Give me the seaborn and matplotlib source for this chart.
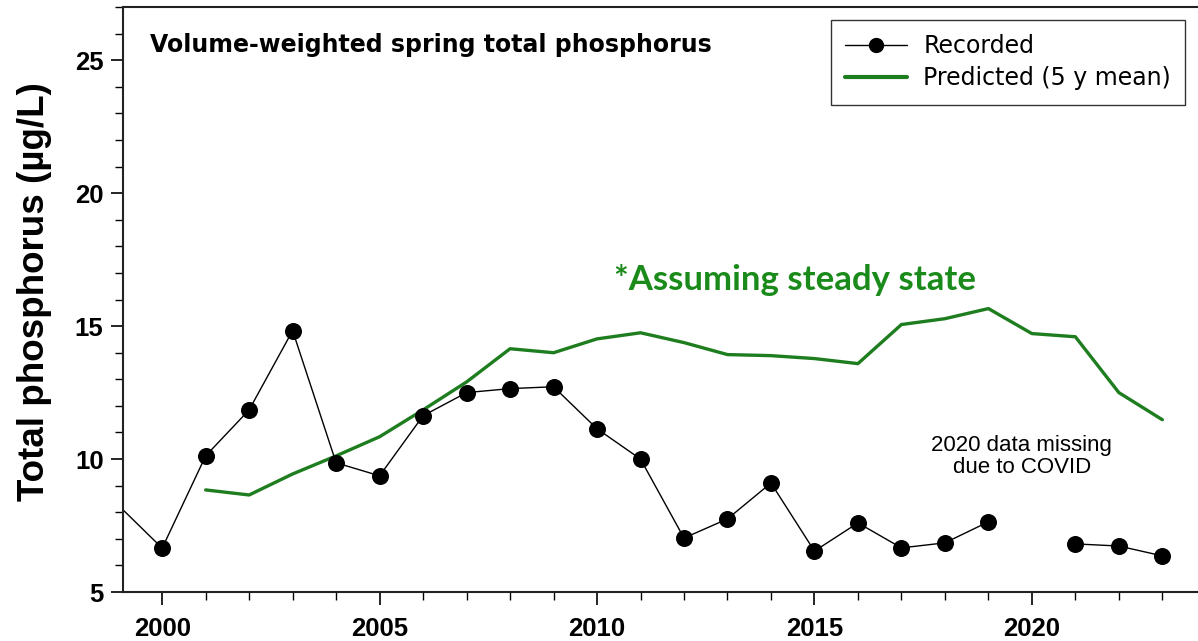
import matplotlib
matplotlib.use('Agg')
import matplotlib.pyplot as plt
from matplotlib.lines import Line2D
from matplotlib.ticker import MultipleLocator
import numpy as np
import pandas as pd
import seaborn as sns

years = list(range(1999, 2024))
recorded = [8.25, 6.65, 10.12, 11.85, 14.83, 9.86, 9.37, 11.63, 12.5, 12.65, 12.72,
            11.14, 10.0, 7.03, 7.75, 9.1, 6.54, 7.6, 6.66, 6.85, 7.64, np.nan,
            6.81, 6.73, 6.36]
pred_years = list(range(2001, 2024))
predicted = [8.84, 8.65, 9.44, 10.12, 10.84, 11.85, 12.9, 14.15, 14.0, 14.52, 14.75,
             14.38, 13.93, 13.89, 13.78, 13.59, 15.06, 15.28, 15.66, 14.72, 14.6,
             12.5, 11.48]

green = '#1e7d1e'

rec_df = pd.DataFrame({'Year': years, 'TP': recorded})
# 2020 missing: split the series so the line breaks there
rec_df['segment'] = (rec_df['Year'] > 2020).astype(int)
rec_df = rec_df.dropna()
pred_df = pd.DataFrame({'Year': pred_years, 'TP': predicted})

sns.set_theme(style='ticks')
plt.rcParams['font.family'] = ['Liberation Sans', 'DejaVu Sans']
plt.rcParams['text.color'] = 'black'

fig = plt.figure(figsize=(11.98, 6.41), dpi=100)
ax = fig.add_axes([0.1027, 0.0764, 0.8973, 0.9126])

sns.lineplot(data=pred_df, x='Year', y='TP', color=green, linewidth=2.4, ax=ax)
sns.lineplot(data=rec_df, x='Year', y='TP', units='segment', estimator=None,
             color='black', linewidth=1.0, ax=ax)
# the 1999 value sits just left of the frame, only its line shows
sns.scatterplot(data=rec_df[rec_df['Year'] >= 2000], x='Year', y='TP', color='black',
                s=150, linewidth=0, ax=ax, zorder=3)

ax.set_xlim(1999.1, 2023.82)
ax.set_ylim(5, 27)
ax.xaxis.set_major_locator(MultipleLocator(5))
ax.xaxis.set_minor_locator(MultipleLocator(1))
ax.yaxis.set_major_locator(MultipleLocator(5))
ax.yaxis.set_minor_locator(MultipleLocator(1))
ax.tick_params(axis='both', which='major', length=9, width=1.2, color='black',
               labelcolor='black', labelsize=18.5, direction='out')
ax.tick_params(axis='both', which='minor', length=6, width=1.0, color='black',
               direction='out')
ax.tick_params(axis='x', pad=9)
ax.tick_params(axis='y', pad=5)
for lab in ax.get_xticklabels() + ax.get_yticklabels():
    lab.set_fontweight('bold')

ax.spines['right'].set_visible(False)
for s in ['left', 'bottom', 'top']:
    ax.spines[s].set_linewidth(1.5)
    ax.spines[s].set_color('#222222')

ax.set_xlabel('')
ax.set_ylabel('Total phosphorus (µg/L)', fontsize=26.5, fontweight='bold',
              color='black')
ax.yaxis.set_label_coords(-0.066, 0.513)

ax.text(0.025, 0.955, 'Volume-weighted spring total phosphorus', transform=ax.transAxes,
        fontsize=17, fontweight='bold', ha='left', va='top',
        family=['DejaVu Sans'])
ax.text(2014.55, 16.75, '*Assuming steady state', fontsize=25, fontweight='bold',
        color='#1a8a1a', ha='center', va='center', family=['Lato', 'DejaVu Sans'])
ax.text(2019.77, 10.1, '2020 data missing\ndue to COVID', fontsize=16, ha='center',
        va='center', linespacing=1.05)

handles = [Line2D([], [], color='black', linewidth=1.0, marker='o', markersize=10),
           Line2D([], [], color=green, linewidth=3)]
leg = ax.legend(handles, ['Recorded', 'Predicted (5 y mean)'], loc='upper right',
                bbox_to_anchor=(0.988, 0.978), borderaxespad=0, frameon=True,
                prop={'family': 'DejaVu Sans', 'size': 17},
                fancybox=False, edgecolor='black', handlelength=2.6,
                borderpad=0.6, labelspacing=0.35, handletextpad=0.7)
leg.get_frame().set_linewidth(1.0)

fig.savefig('out.png', dpi=100)
